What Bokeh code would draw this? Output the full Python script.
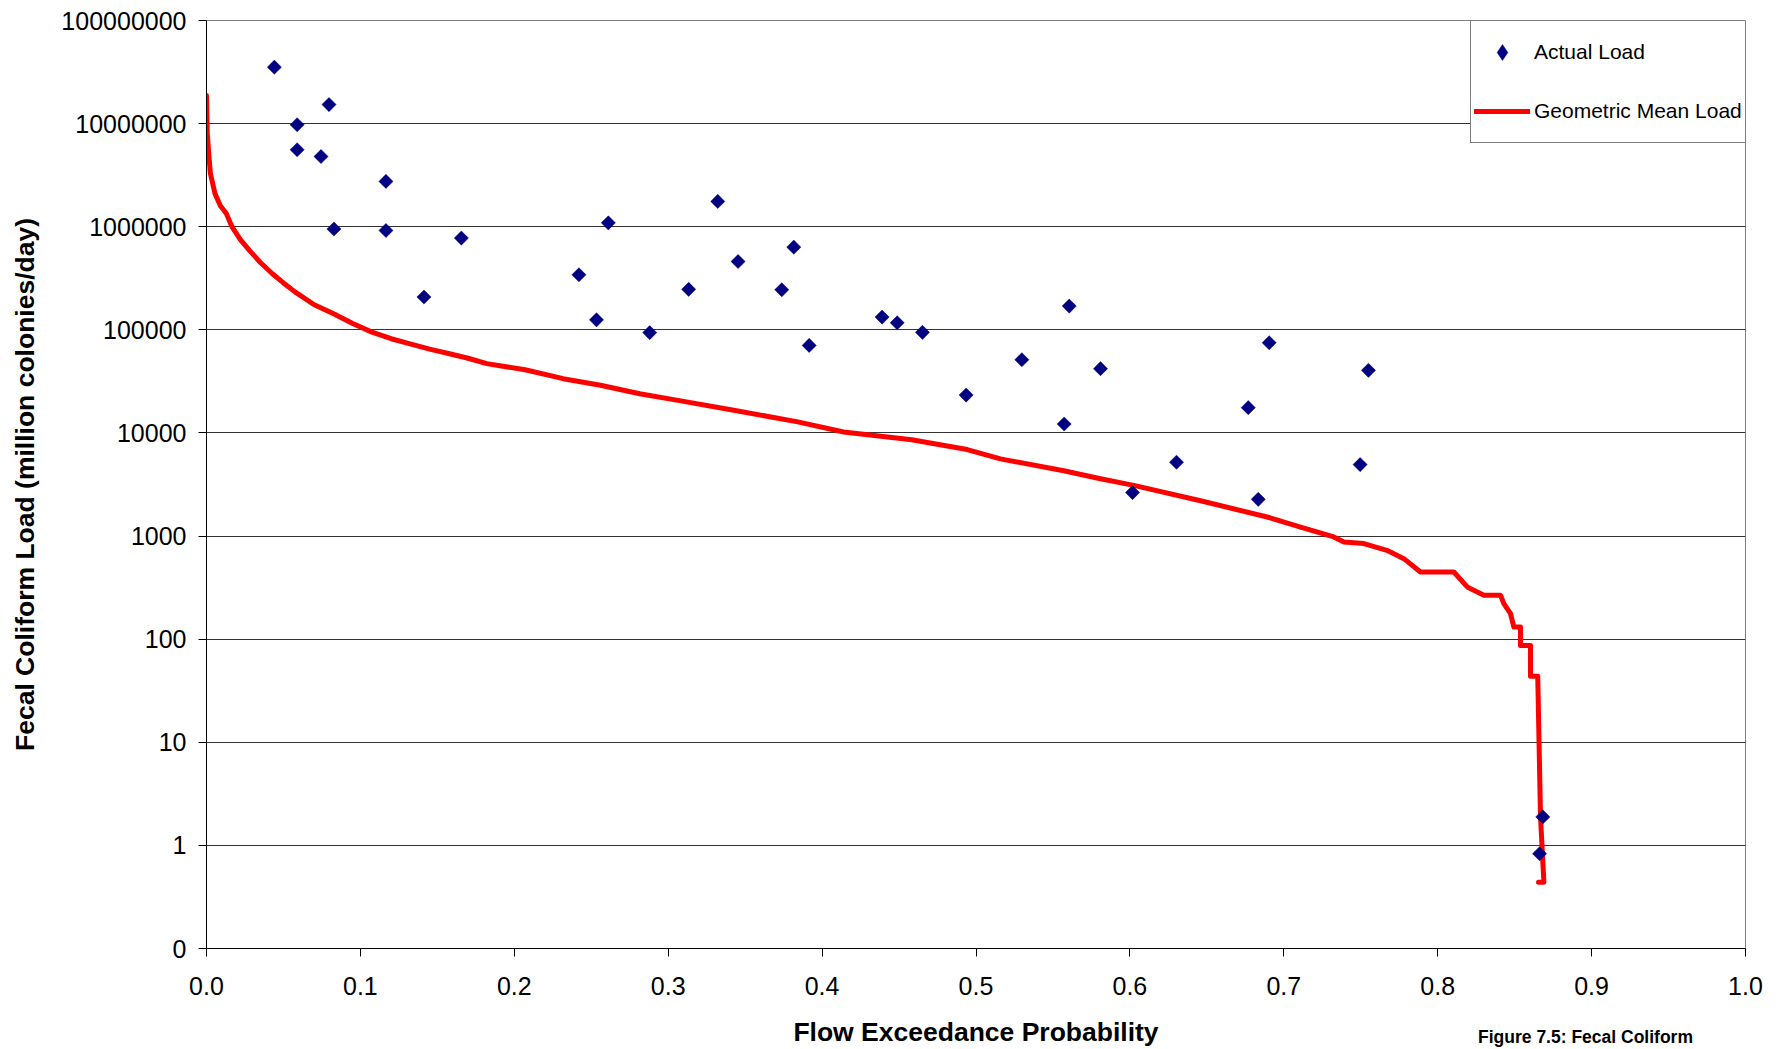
import numpy as np
from bokeh.plotting import figure
from bokeh.models import (ColumnDataSource, FixedTicker, NumeralTickFormatter, Range1d,
                          Legend, LegendItem, Label)
from bokeh.embed import file_html
from bokeh.resources import INLINE

# ---- data ----
actual_x = [0.0441, 0.0589, 0.0796, 0.0589, 0.0744, 0.1166, 0.0828, 0.1166, 0.1656, 0.1413,
            0.2420, 0.2534, 0.2611, 0.2880, 0.3133, 0.3322, 0.3454, 0.3816, 0.3738, 0.3916,
            0.4390, 0.4488, 0.4652, 0.4936, 0.5298, 0.5606, 0.5573, 0.5809, 0.6017, 0.6303,
            0.6769, 0.6834, 0.6905, 0.7496, 0.7550, 0.8683, 0.8662]
actual_y = [3.53e7, 9.75e6, 1.53e7, 5.58e6, 4.8e6, 2.75e6, 9.5e5, 9.2e5, 7.76e5, 2.08e5,
            3.42e5, 1.25e5, 1.09e6, 9.4e4, 2.47e5, 1.76e6, 4.6e5, 6.34e5, 2.45e5, 7.06e4,
            1.33e5, 1.17e5, 9.45e4, 2.33e4, 5.13e4, 1.7e5, 1.22e4, 4.2e4, 2.64e3, 5.2e3,
            1.76e4, 2.27e3, 7.5e4, 4.93e3, 4.05e4, 1.89, 0.83]

gm_x = [0.0, 0.0005, 0.0015, 0.0025, 0.0055, 0.0090, 0.0129, 0.0167, 0.0220, 0.0279,
        0.0350, 0.0428, 0.0500, 0.0577, 0.0700, 0.0826, 0.0950, 0.1075, 0.1200, 0.1323,
        0.1450, 0.1572, 0.1700, 0.1821, 0.2070, 0.2318, 0.2560, 0.2815, 0.3064, 0.3426,
        0.3842, 0.4140, 0.4582, 0.4943, 0.5159, 0.5570, 0.5809, 0.6025, 0.6459,
        0.6892, 0.7109, 0.7325, 0.7390, 0.7520, 0.7670, 0.7780, 0.7888, 0.8105, 0.8192,
        0.8300, 0.8408, 0.8430, 0.8473, 0.8495, 0.8538, 0.8538, 0.8603, 0.8603, 0.8650,
        0.8668, 0.8690, 0.8655]
gm_y = [1.87e7, 8.0e6, 5.0e6, 3.3e6, 2.1e6, 1.6e6, 1.34e6, 9.9e5, 7.5e5, 5.9e5,
        4.5e5, 3.5e5, 2.85e5, 2.32e5, 1.75e5, 1.43e5, 1.15e5, 9.5e4, 8.2e4, 7.3e4,
        6.5e4, 5.9e4, 5.3e4, 4.7e4, 4.1e4, 3.36e4, 2.9e4, 2.4e4, 2.07e4, 1.66e4,
        1.28e4, 1.02e4, 8.6e3, 6.9e3, 5.6e3, 4.3e3, 3.6e3, 3.1e3, 2.2e3,
        1.53e3, 1.22e3, 980, 875, 845, 727, 604, 448, 448, 321,
        267, 267, 221, 177, 131, 131, 87, 87, 43.7, 43.7,
        1.89, 0.44, 0.44]

x_ticks = [0.0, 0.1, 0.2, 0.3, 0.4, 0.5, 0.6, 0.7, 0.8, 0.9, 1.0]
y_ticks = [0.1, 1, 10, 100, 1000, 10000, 100000, 1000000, 10000000, 100000000]

FONT = "Liberation Sans"

p = figure(width=1786, height=1049, x_range=Range1d(0.0, 1.0), y_range=Range1d(0.1, 1e8),
           y_axis_type="log", output_backend="svg", toolbar_location=None,
           min_border_left=206, min_border_right=41, min_border_top=20, min_border_bottom=101,
           background_fill_color="white", border_fill_color="white")

p.outline_line_color = "#808080"
p.outline_line_width = 1

p.xgrid.visible = False
p.ygrid.grid_line_color = "#333333"
p.ygrid.grid_line_width = 1

line_src = ColumnDataSource(dict(x=gm_x, y=gm_y))
pt_src = ColumnDataSource(dict(x=actual_x, y=actual_y))

r_line = p.line("x", "y", source=line_src, line_color="#FF0000", line_width=5,
                line_join="round", line_cap="round")
# narrow diamonds (hidden under the rotated squares) - provide the legend swatch
r_key = p.scatter("x", "y", source=pt_src, marker="diamond", size=12,
                  fill_color="#000080", line_color="#000080", line_width=0.5)
r_pts = p.scatter("x", "y", source=pt_src, marker="square", angle=np.pi / 4, size=10,
                  fill_color="#000080", line_color="#000080", line_width=0.5)

for ax in (p.xaxis[0], p.yaxis[0]):
    ax.axis_line_color = "black"
    ax.axis_line_width = 1
    ax.major_tick_line_color = "black"
    ax.major_tick_out = 8
    ax.major_tick_in = 0
    ax.minor_tick_out = 0
    ax.minor_tick_in = 0
    ax.major_label_text_font = FONT
    ax.major_label_text_font_size = "25px"
    ax.major_label_text_color = "black"
    ax.axis_label_text_font = FONT
    ax.axis_label_text_font_style = "bold"
    ax.axis_label_text_font_size = "26.5px"
    ax.axis_label_text_color = "black"

p.xaxis.ticker = FixedTicker(ticks=x_ticks, minor_ticks=[])
p.xaxis.formatter = NumeralTickFormatter(format="0.0")
p.xaxis.major_label_standoff = 20
p.xaxis.axis_label = "Flow Exceedance Probability"
p.xaxis.axis_label_standoff = 19

p.yaxis.ticker = FixedTicker(ticks=y_ticks, minor_ticks=[])
p.yaxis.formatter = NumeralTickFormatter(format="0")
p.yaxis.major_label_standoff = 12
p.yaxis.axis_label = "Fecal Coliform Load (million colonies/day)"
p.yaxis.axis_label_standoff = 18

# caption at the bottom right of the page
p.add_layout(Label(x=1379, y=-1016, x_units="screen", y_units="screen",
                   text="Figure 7.5: Fecal Coliform", text_align="center",
                   text_baseline="alphabetic", text_font=FONT, text_font_style="bold",
                   text_font_size="17.5px", text_color="black"), "above")

legend = Legend(items=[LegendItem(label="Actual Load", renderers=[r_key]),
                       LegendItem(label="Geometric Mean Load", renderers=[r_line])],
                location=(1264, 805), orientation="vertical",
                border_line_color="black", border_line_width=1,
                background_fill_color="white", background_fill_alpha=1.0,
                padding=3, spacing=3, margin=0,
                glyph_width=56, glyph_height=40, label_height=56, label_standoff=4,
                label_text_font=FONT, label_text_font_size="21px",
                label_text_color="black")
p.add_layout(legend, "center")

open("out.html", "w").write(file_html(p, INLINE))
